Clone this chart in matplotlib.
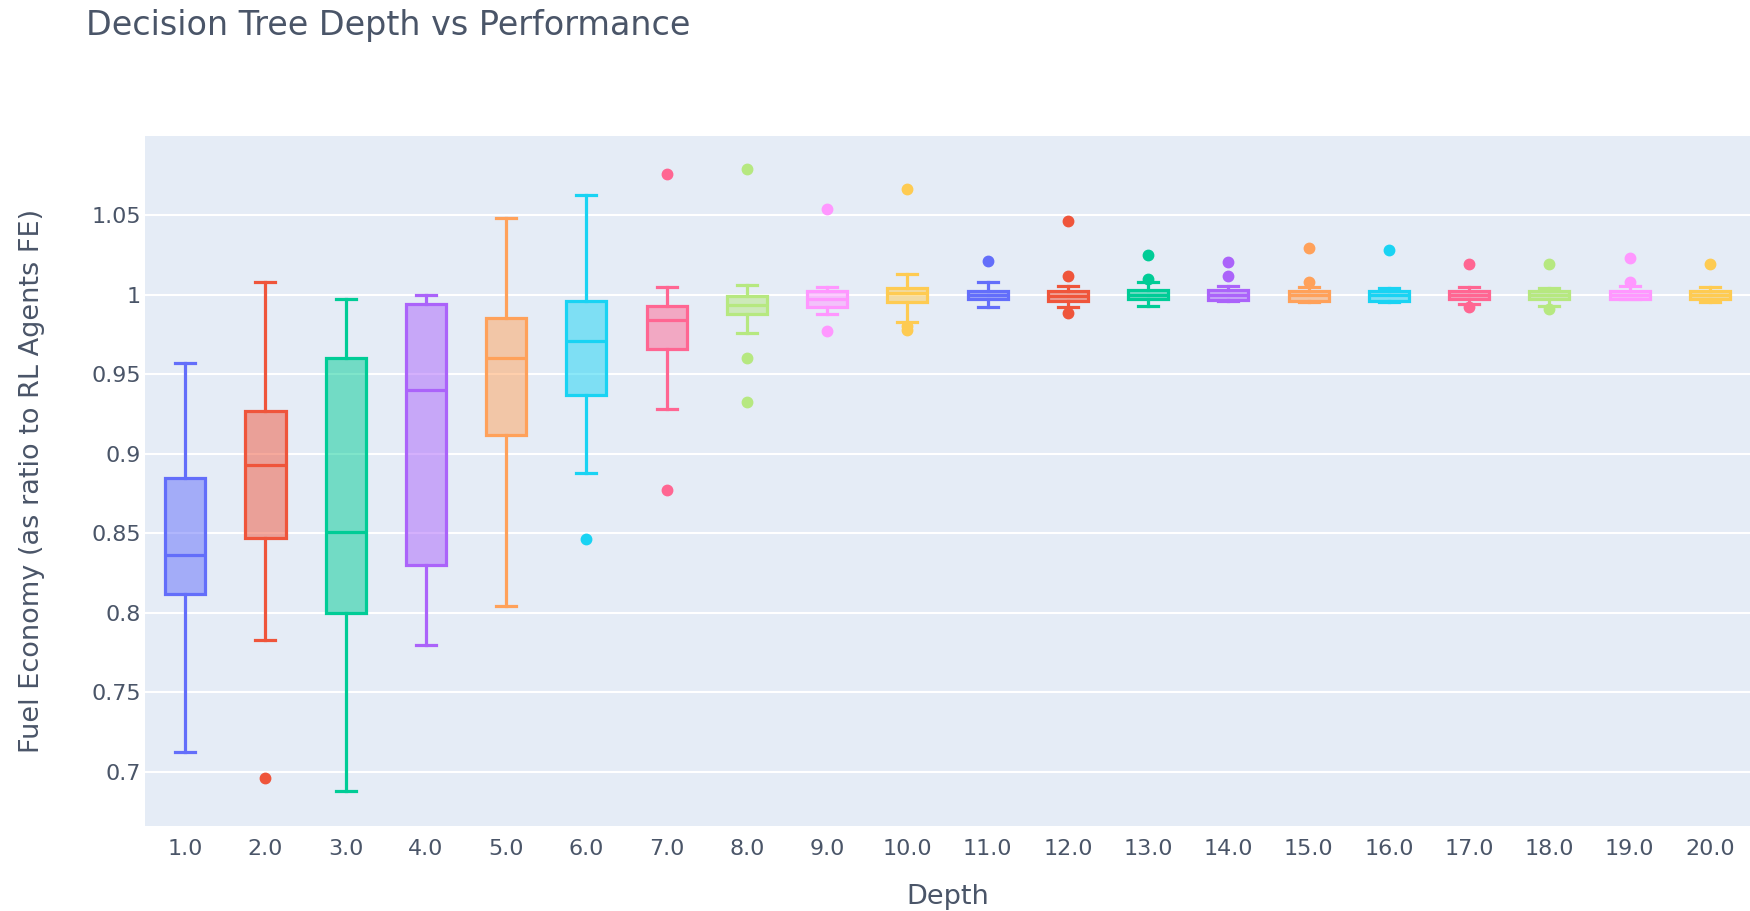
import matplotlib.pyplot as plt
import matplotlib.ticker as mticker
from matplotlib.colors import to_rgba

plt.rcParams['font.family'] = ['DejaVu Sans']

# 數據
depths = [f"{d:.1f}" for d in range(1, 21)]
q1 = [0.812, 0.847, 0.800, 0.830, 0.912, 0.937, 0.966, 0.988, 0.992, 0.995,
      0.997, 0.996, 0.997, 0.9965, 0.996, 0.996, 0.997, 0.997, 0.997, 0.997]
medians = [0.836, 0.893, 0.851, 0.940, 0.960, 0.971, 0.984, 0.9935, 0.997, 1.001,
           1.0, 0.999, 1.0, 1.0, 0.9995, 1.0, 0.9995, 1.0, 0.9995, 1.0]
q3 = [0.885, 0.927, 0.960, 0.994, 0.985, 0.996, 0.993, 0.999, 1.002, 1.004,
      1.0025, 1.0025, 1.003, 1.003, 1.002, 1.0025, 1.0025, 1.0025, 1.002, 1.0025]
whislo = [0.7125, 0.783, 0.688, 0.780, 0.804, 0.8876, 0.928, 0.976, 0.988, 0.9826,
          0.992, 0.992, 0.993, 0.996, 0.995, 0.995, 0.994, 0.993, 0.997, 0.995]
whishi = [0.957, 1.008, 0.997, 1.0, 1.048, 1.0628, 1.0046, 1.006, 1.005, 1.0126,
          1.008, 1.0056, 1.008, 1.0056, 1.005, 1.004, 1.005, 1.004, 1.0056, 1.0048]
outliers = [[], [0.696], [], [], [], [0.8466], [1.076, 0.877], [1.079, 0.960, 0.9325],
            [1.054, 0.977], [1.0666, 0.980, 0.978], [1.021], [1.0465, 1.0114, 0.9886],
            [1.025, 1.010], [1.0207, 1.0114], [1.029, 1.008], [1.028], [1.019, 0.992],
            [1.019, 0.991], [1.023, 1.008], [1.019]]

palette = ['#636EFA', '#EF553B', '#00CC96', '#AB63FA', '#FFA15A',
           '#19D3F3', '#FF6692', '#B6E880', '#FF97FF', '#FECB52']
text_color = '#4a5568'

stats = []
for i in range(len(depths)):
    stats.append({'med': medians[i], 'q1': q1[i], 'q3': q3[i],
                  'whislo': whislo[i], 'whishi': whishi[i], 'fliers': outliers[i]})

fig = plt.figure(figsize=(17.5, 9.11), dpi=100)
ax = fig.add_axes([0.0829, 0.0933, 0.9171, 0.7574])
ax.set_facecolor('#E5ECF6')

positions = list(range(1, len(depths) + 1))
arts = ax.bxp(stats, positions=positions, widths=0.5, capwidths=0.25,
              patch_artist=True, showfliers=True)

lw = 2.3
for i in range(len(depths)):
    c = palette[i % len(palette)]
    box = arts['boxes'][i]
    box.set_facecolor(to_rgba(c, 0.5))
    box.set_edgecolor(c)
    box.set_linewidth(lw)
    arts['medians'][i].set_color(c)
    arts['medians'][i].set_linewidth(lw)
    for w in arts['whiskers'][2 * i:2 * i + 2]:
        w.set_color(c)
        w.set_linewidth(lw)
    for cp in arts['caps'][2 * i:2 * i + 2]:
        cp.set_color(c)
        cp.set_linewidth(lw)
    fl = arts['fliers'][i]
    fl.set_marker('o')
    fl.set_markerfacecolor(c)
    fl.set_markeredgecolor(c)
    fl.set_markersize(7.5)

ax.set_xlim(0.5, len(depths) + 0.5)
ax.set_ylim(0.666, 1.0996)
ax.set_xticks(positions)
ax.set_xticklabels(depths)
ax.set_yticks([0.7, 0.75, 0.8, 0.85, 0.9, 0.95, 1.0, 1.05])
ax.yaxis.set_major_formatter(mticker.FuncFormatter(lambda v, p: f"{v:g}"))

ax.grid(axis='y', color='white', linewidth=1.5)
ax.grid(axis='x', visible=False)
ax.set_axisbelow(True)
for s in ax.spines.values():
    s.set_visible(False)
ax.tick_params(length=0, labelsize=16, labelcolor=text_color, pad=9)
ax.tick_params(axis='y', pad=3)

ax.set_xlabel('Depth', fontsize=19.5, color=text_color, labelpad=18)
ax.set_ylabel('Fuel Economy (as ratio to RL Agents FE)', fontsize=19.5,
              color=text_color, labelpad=33)

fig.text(0.049, 0.972, 'Decision Tree Depth vs Performance', fontsize=24,
         color=text_color, ha='left', va='center')

fig.savefig('out.png', dpi=100)
